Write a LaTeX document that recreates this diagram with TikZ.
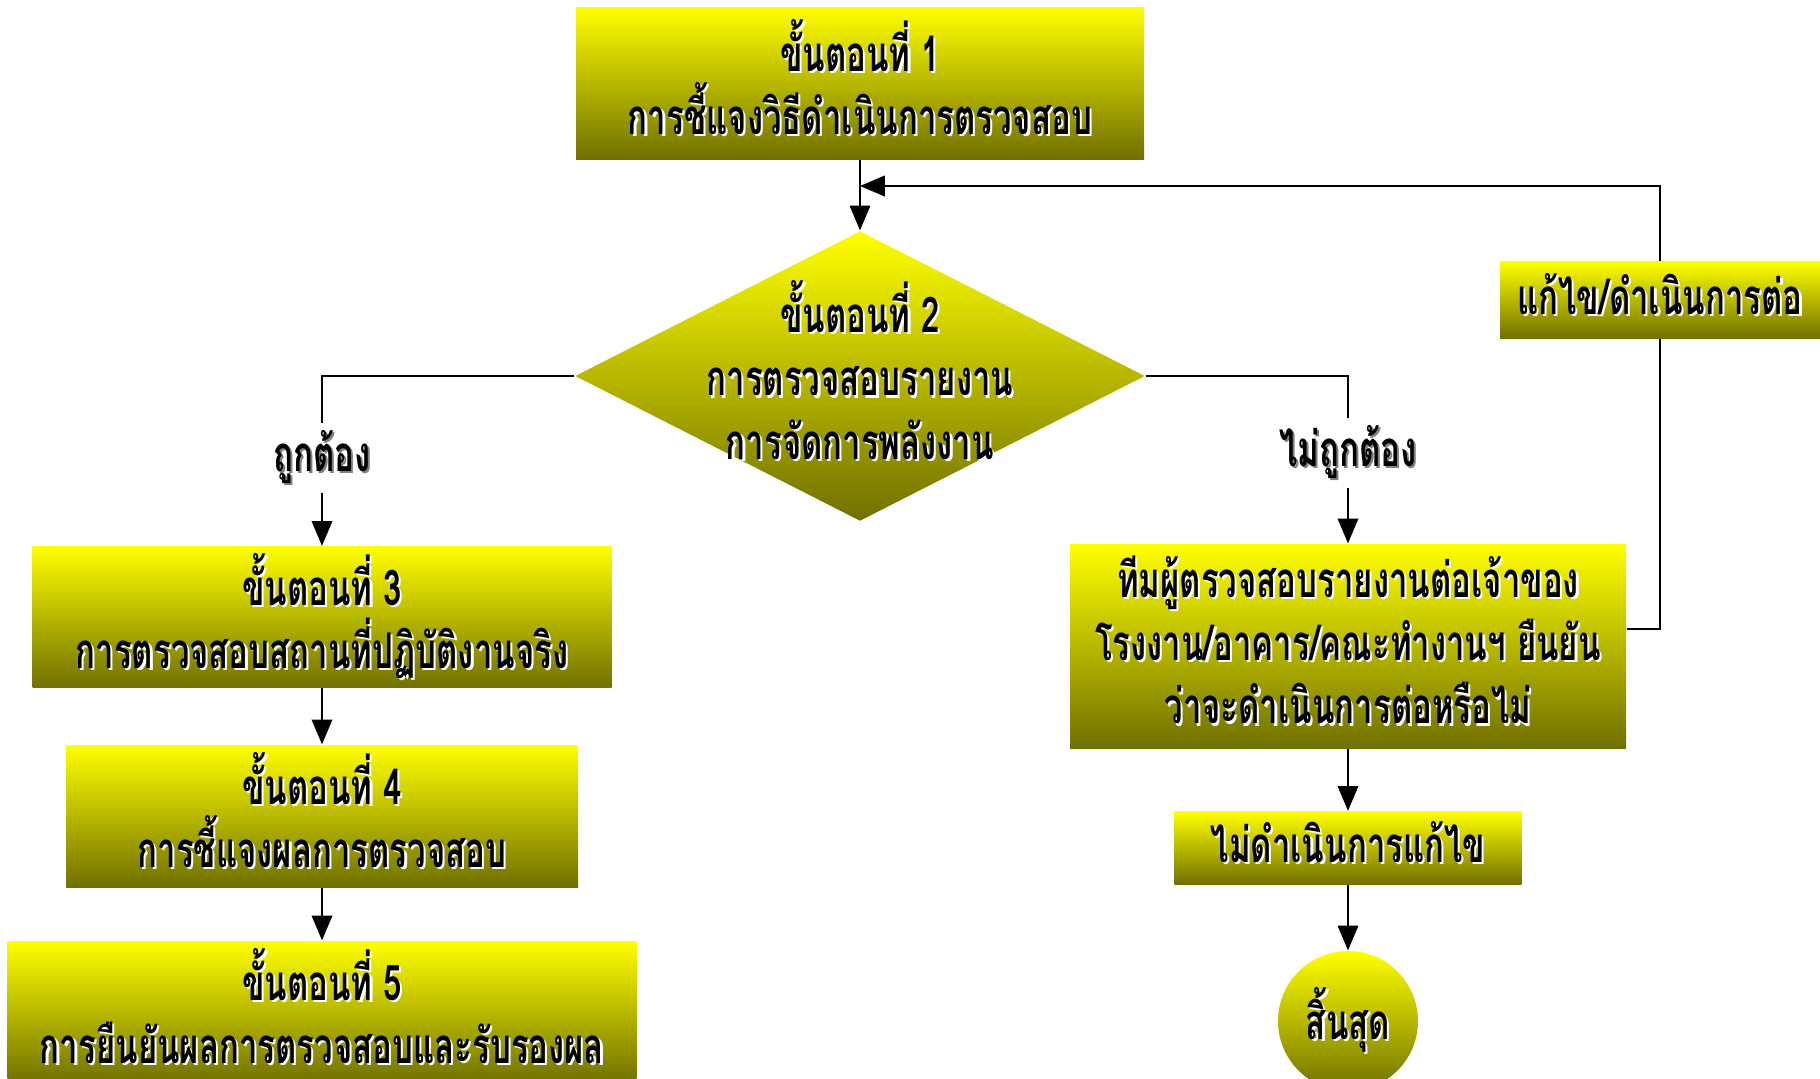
\documentclass[tikz,border=0pt]{standalone}
\usepackage{fontspec}
\newfontfamily\thaifont[Script=Thai,FakeStretch=0.67]{Loma}
\usetikzlibrary{arrows,shapes.geometric}
\definecolor{olivebot}{RGB}{112,112,0}
\newcommand\thaisize{\thaifont\bfseries\fontsize{14}{18}\selectfont\lineskiplimit-100pt\relax}
\newcommand\shtxt[2][white]{\leavevmode\rule[-3.5pt]{0pt}{14.5pt}\rlap{\raisebox{-0.6pt}{\hspace{0.6pt}\textcolor{#1}{#2}}}#2}
\tikzset{
  thaitxt/.style={font=\thaisize,align=center},
  stepbox/.style={thaitxt,rectangle,top color=yellow,bottom color=olivebot,inner sep=0pt},
  stepdiam/.style={thaitxt,diamond,aspect=1.97,top color=yellow,bottom color=olivebot,inner xsep=0pt,inner ysep=-0.4cm,minimum width=5.7cm,minimum height=2.9cm},
  stepend/.style={thaitxt,circle,top color=yellow,bottom color=olivebot,inner sep=0pt,minimum size=1.4cm},
  branch/.style={thaitxt,inner sep=2pt},
  conn/.style={line width=0.6pt},
  arr/.style={conn,-triangle 45}
}

\begin{document}
\begin{tikzpicture}
\useasboundingbox (0,0) rectangle (18.2,-10.79);
\node[stepbox,minimum width=5.68cm,minimum height=1.52cm] (s1) at (8.6,-0.83) {\shtxt{ขั้นตอนที่ 1}\\\shtxt{การชี้แจงวิธีดำเนินการตรวจสอบ}};
\node[stepdiam] (s2) at (8.6,-3.76) {\shtxt{ขั้นตอนที่ 2}\\\shtxt{การตรวจสอบรายงาน}\\\shtxt{การจัดการพลังงาน}};
\node[stepbox,minimum width=5.79cm,minimum height=1.41cm] (s3) at (3.22,-6.17) {\shtxt{ขั้นตอนที่ 3}\\\shtxt{การตรวจสอบสถานที่ปฏิบัติงานจริง}};
\node[stepbox,minimum width=5.12cm,minimum height=1.42cm] (s4) at (3.22,-8.16) {\shtxt{ขั้นตอนที่ 4}\\\shtxt{การชี้แจงผลการตรวจสอบ}};
\node[stepbox,minimum width=6.29cm,minimum height=1.42cm] (s5) at (3.22,-10.12) {\shtxt{ขั้นตอนที่ 5}\\\shtxt{การยืนยันผลการตรวจสอบและรับรองผล}};
\node[stepbox,minimum width=5.56cm,minimum height=2.04cm] (team) at (13.48,-6.46) {\shtxt{ทีมผู้ตรวจสอบรายงานต่อเจ้าของ}\\\shtxt{โรงงาน/อาคาร/คณะทำงานฯ ยืนยัน}\\\shtxt{ว่าจะดำเนินการต่อหรือไม่}};
\node[stepbox,minimum width=3.47cm,minimum height=0.73cm] (nofix) at (13.48,-8.48) {\shtxt{ไม่ดำเนินการแก้ไข}};
\node[stepend] (stop) at (13.48,-10.21) {\shtxt{สิ้นสุด}};
\node[stepbox,minimum width=3.2cm,minimum height=0.77cm] (fix) at (16.6,-3.0) {\shtxt{แก้ไข/ดำเนินการต่อ}};
\node[branch] (ok) at (3.22,-4.58) {\shtxt[gray]{ถูกต้อง}};
\node[branch] (ng) at (13.48,-4.53) {\shtxt[gray]{ไม่ถูกต้อง}};
\coordinate (back) at (8.6,-1.86);

\draw[arr] (s1) -- (s2);
\draw[conn] (s2.west) -| (ok.north);
\draw[arr] (ok.south) -- (s3.north);
\draw[arr] (s3) -- (s4);
\draw[arr] (s4) -- (s5);
\draw[conn] (s2.east) -| (ng.north);
\draw[arr] (ng.south) -- (team.north);
\draw[arr] (team) -- (nofix);
\draw[arr] (nofix) -- (stop);
\draw[conn] ([yshift=0.17cm]team.east) -| (fix.south);
\draw[arr] (fix.north) |- (back);
\end{tikzpicture}
\end{document}
